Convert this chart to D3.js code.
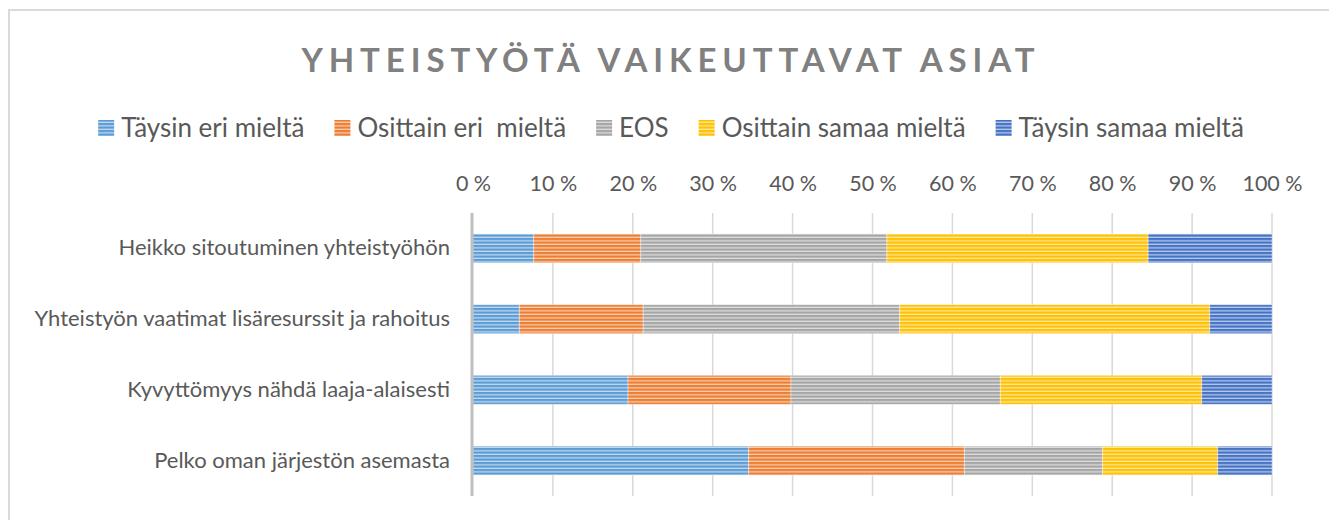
<!DOCTYPE html>
<html>
<head>
<meta charset="utf-8">
<script src="https://cdn.jsdelivr.net/npm/d3@7"></script>
<style>
  html, body { margin: 0; padding: 0; background: #fff; }
  svg text { font-family: Lato, "Open Sans", sans-serif; }
</style>
</head>
<body>
<svg id="chart" width="1329" height="520"></svg>
<script>
const title = "YHTEISTYÖTÄ VAIKEUTTAVAT ASIAT";
const categories = [
  "Heikko sitoutuminen yhteistyöhön",
  "Yhteistyön vaatimat lisäresurssit ja rahoitus",
  "Kyvyttömyys nähdä laaja-alaisesti",
  "Pelko oman järjestön asemasta"
];
const seriesNames = ["Täysin eri mieltä", "Osittain eri  mieltä", "EOS", "Osittain samaa mieltä", "Täysin samaa mieltä"];
const seriesColors = ["#5B9BD5", "#ED7D31", "#A5A5A5", "#FFC000", "#4472C4"];
const taysinEri    = [7.6, 5.8, 19.4, 34.5];
const osittainEri  = [13.4, 15.5, 20.4, 27.0];
const eos          = [30.8, 32.1, 26.2, 17.3];
const osittainSama = [32.7, 38.8, 25.2, 14.4];
const taysinSama   = [15.5, 7.8, 8.8, 6.8];
const tickValues = [0, 10, 20, 30, 40, 50, 60, 70, 80, 90, 100];
const tickLabels = ["0 %", "10 %", "20 %", "30 %", "40 %", "50 %", "60 %", "70 %", "80 %", "90 %", "100 %"];

const seriesValues = [taysinEri, osittainEri, eos, osittainSama, taysinSama];
const rows = categories.map((c, i) => {
  const o = { cat: c };
  seriesNames.forEach((s, j) => o[s] = seriesValues[j][i]);
  return o;
});
const stacked = d3.stack().keys(seriesNames).offset(d3.stackOffsetExpand)(rows);

const svg = d3.select("#chart");

// chart border (top and left visible)
svg.append("path")
  .attr("d", "M9,520 V10 H1329")
  .attr("fill", "none").attr("stroke", "#d9d9d9").attr("stroke-width", 2);

// patterns
const defs = svg.append("defs");
seriesColors.forEach((col, i) => {
  const p = defs.append("pattern")
    .attr("id", "pat" + i).attr("patternUnits", "userSpaceOnUse")
    .attr("width", 6).attr("height", 3.5);
  p.append("rect").attr("width", 6).attr("height", 3.5).attr("fill", col);
  p.append("rect").attr("y", 2.2).attr("width", 6).attr("height", 1.3)
    .attr("fill", d3.interpolateRgb(col, "#ffffff")(0.62));
});

const x = d3.scaleLinear().domain([0, 1]).range([473, 1272]);
const y = d3.scaleBand().domain(categories).range([213, 496]).paddingInner(0.59).paddingOuter(0.295);

// title
svg.append("text")
  .attr("x", 668).attr("y", 72)
  .attr("text-anchor", "middle")
  .attr("font-size", 33).attr("font-weight", "bold")
  .attr("fill", "#808080")
  .attr("textLength", 733).attr("lengthAdjust", "spacing")
  .text(title);

// legend
const legend = svg.append("g");
let lx = 0;
const legendGap = 30;
seriesNames.forEach((s, i) => {
  const g = legend.append("g").attr("transform", `translate(${lx},0)`);
  g.append("rect").attr("x", 0).attr("y", -17).attr("width", 16).attr("height", 16)
    .attr("fill", `url(#pat${i})`);
  const t = g.append("text").attr("x", 23).attr("y", 0)
    .attr("font-size", 26).attr("fill", "#595959")
    .style("white-space", "pre").attr("xml:space", "preserve")
    .text(s);
  lx += 23 + t.node().getComputedTextLength() + legendGap;
});
const legendW = lx - legendGap;
legend.attr("transform", `translate(${671 - legendW / 2},137)`);

// gridlines
svg.append("g").selectAll("line").data(tickValues.slice(1)).join("line")
  .attr("x1", d => x(d / 100)).attr("x2", d => x(d / 100))
  .attr("y1", 213).attr("y2", 496)
  .attr("stroke", "#d9d9d9").attr("stroke-width", 1.5);

// top axis labels
const xAxis = d3.axisTop(x).tickValues(tickValues.map(v => v / 100))
  .tickFormat((d, i) => tickLabels[i]).tickSize(0).tickPadding(0);
const ax = svg.append("g").attr("transform", "translate(0,191)").call(xAxis);
ax.select(".domain").remove();
ax.selectAll("text").attr("font-size", 21.5).attr("fill", "#595959")
  .attr("font-family", "Lato, sans-serif").attr("dy", 0);

// bars
svg.append("g").selectAll("g").data(stacked).join("g")
  .attr("fill", (d, i) => `url(#pat${i})`)
  .selectAll("rect").data(d => d).join("rect")
  .attr("x", d => x(d[0])).attr("width", d => x(d[1]) - x(d[0]))
  .attr("y", d => y(d.data.cat)).attr("height", y.bandwidth())
  .attr("stroke", "rgba(255,255,255,0.35)").attr("stroke-width", 1);

// left category axis
const yAxis = d3.axisLeft(y).tickSize(0).tickPadding(23);
const ay = svg.append("g").attr("transform", "translate(473,0)").call(yAxis);
ay.select(".domain").remove();
ay.selectAll("text").attr("font-size", 22).attr("fill", "#595959")
  .attr("font-family", "Lato, sans-serif");
svg.append("line").attr("x1", 472).attr("x2", 472).attr("y1", 213).attr("y2", 496)
  .attr("stroke", "#bfbfbf").attr("stroke-width", 3);
</script>
</body>
</html>
